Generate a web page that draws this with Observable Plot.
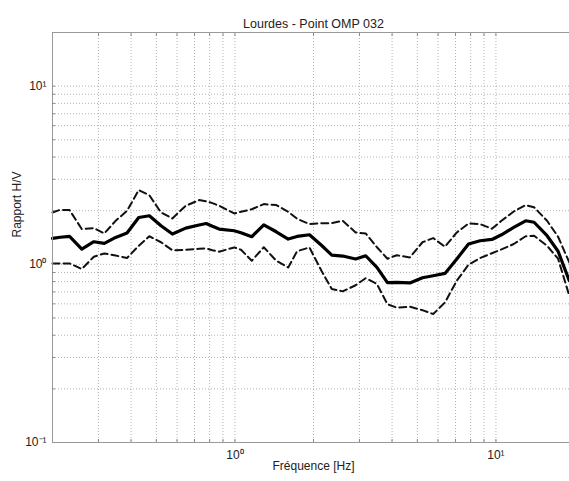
<!DOCTYPE html>
<html>
<head>
<meta charset="utf-8">
<script src="https://cdn.jsdelivr.net/npm/d3@7"></script>
<script src="https://cdn.jsdelivr.net/npm/@observablehq/plot@0.6"></script>
<style>
  html, body { margin: 0; padding: 0; background: #fff; }
  svg { font-family: "Liberation Sans", Arial, sans-serif; }
</style>
</head>
<body>
<div id="chart"></div>
<script>
const title = "Lourdes - Point OMP 032";
const xLabel = "Fréquence [Hz]";
const yLabel = "Rapport H/V";

const freq = [0.2, 0.214, 0.2325, 0.259, 0.288, 0.316, 0.349, 0.386, 0.428, 0.470, 0.521, 0.576, 0.648, 0.729, 0.776, 0.820, 0.870, 0.994, 1.055, 1.16, 1.29, 1.44, 1.60, 1.73, 1.93, 2.15, 2.35, 2.59, 2.90, 3.17, 3.50, 3.84, 4.17, 4.68, 5.23, 5.75, 6.38, 7.08, 7.85, 8.70, 9.65, 10.5, 11.7, 13.0, 14.0, 15.7, 17.3, 19.1];
const hvMean = [1.397, 1.419, 1.434, 1.218, 1.339, 1.310, 1.415, 1.498, 1.832, 1.873, 1.646, 1.479, 1.597, 1.663, 1.695, 1.635, 1.577, 1.543, 1.504, 1.428, 1.667, 1.523, 1.386, 1.434, 1.465, 1.275, 1.127, 1.113, 1.071, 1.117, 0.961, 0.789, 0.792, 0.786, 0.841, 0.863, 0.889, 1.071, 1.300, 1.356, 1.379, 1.465, 1.610, 1.755, 1.722, 1.447, 1.184, 0.809];
const hvUpper = [1.954, 2.023, 2.015, 1.577, 1.597, 1.490, 1.755, 1.997, 2.609, 2.440, 1.954, 1.809, 2.131, 2.293, 2.258, 2.206, 2.131, 1.929, 1.972, 2.037, 2.178, 2.150, 1.972, 1.802, 1.682, 1.700, 1.704, 1.755, 1.510, 1.490, 1.247, 1.075, 1.125, 1.093, 1.330, 1.404, 1.255, 1.510, 1.695, 1.682, 1.584, 1.755, 1.980, 2.150, 2.090, 1.755, 1.428, 1.025];
const hvLower = [1.012, 1.012, 1.012, 0.941, 1.103, 1.151, 1.120, 1.085, 1.271, 1.437, 1.330, 1.199, 1.207, 1.223, 1.228, 1.199, 1.177, 1.244, 1.207, 1.047, 1.247, 1.047, 0.961, 1.184, 1.244, 0.915, 0.727, 0.705, 0.763, 0.836, 0.775, 0.597, 0.571, 0.578, 0.553, 0.526, 0.611, 0.809, 0.995, 1.085, 1.154, 1.212, 1.300, 1.437, 1.447, 1.271, 1.075, 0.667];

const xGrid = [0.3, 0.4, 0.5, 0.6, 0.7, 0.8, 0.9, 1, 2, 3, 4, 5, 6, 7, 8, 9, 10];
const yGrid = [0.2, 0.3, 0.4, 0.5, 0.6, 0.7, 0.8, 0.9, 1, 2, 3, 4, 5, 6, 7, 8, 9, 10];
const xMajor = [1, 10];
const xTickLabels = ["10\u2070", "10\u00b9"];
const yMajor = [0.1, 1, 10];
const yTickLabels = ["10\u207b\u00b9", "10\u2070", "10\u00b9"];

const data = freq.map((f, i) => ({f, mean: hvMean[i], upper: hvUpper[i], lower: hvLower[i]}));

const gridStyle = {stroke: "#b4b4b4", strokeWidth: 1, strokeDasharray: "1,2"};
const textColor = "#222";

const chart = Plot.plot({
  width: 569,
  height: 481,
  marginTop: 32,
  marginBottom: 39,
  marginLeft: 52,
  marginRight: -5,
  style: {fontFamily: "'Liberation Sans', Arial, sans-serif", fontSize: "12px", color: textColor, background: "#fff"},
  x: {type: "log", domain: [0.2, 20]},
  y: {type: "log", domain: [0.1, 20]},
  marks: [
    Plot.ruleX(xGrid, {x: d => d, ...gridStyle}),
    Plot.ruleY(yGrid, {y: d => d, ...gridStyle}),
    Plot.line(data, {x: "f", y: "upper", stroke: "#111", strokeWidth: 2, strokeDasharray: "7,4"}),
    Plot.line(data, {x: "f", y: "lower", stroke: "#111", strokeWidth: 2, strokeDasharray: "7,4"}),
    Plot.line(data, {x: "f", y: "mean", stroke: "#000", strokeWidth: 3.2}),
    Plot.frame({stroke: "#999", strokeWidth: 1}),
    Plot.axisX(xGrid, {anchor: "bottom", tickSize: -3, stroke: "#888", tickFormat: () => "", label: null}),
    Plot.axisX(xGrid, {anchor: "top", tickSize: -3, stroke: "#888", tickFormat: () => "", label: null}),
    Plot.axisY(yGrid, {anchor: "left", tickSize: -3, stroke: "#888", tickFormat: () => "", label: null}),
    Plot.axisX(xMajor, {anchor: "bottom", tickSize: 0, tickPadding: 8, fontSize: 12, fill: textColor,
      tickFormat: d => xTickLabels[xMajor.indexOf(d)], label: null}),
    Plot.axisY(yMajor, {anchor: "left", tickSize: 0, tickPadding: 6, fontSize: 12, fill: textColor,
      tickFormat: d => yTickLabels[yMajor.indexOf(d)], label: null}),
    Plot.text([title], {frameAnchor: "top", dy: -13, fontSize: 12.5, fill: textColor, text: d => d}),
    Plot.text([xLabel], {frameAnchor: "bottom", dy: 27, fontSize: 12, fill: textColor, text: d => d}),
    Plot.text([yLabel], {frameAnchor: "left", dx: -35, rotate: -90, fontSize: 12, fill: textColor, text: d => d})
  ]
});
document.getElementById("chart").appendChild(chart);
</script>
</body>
</html>
